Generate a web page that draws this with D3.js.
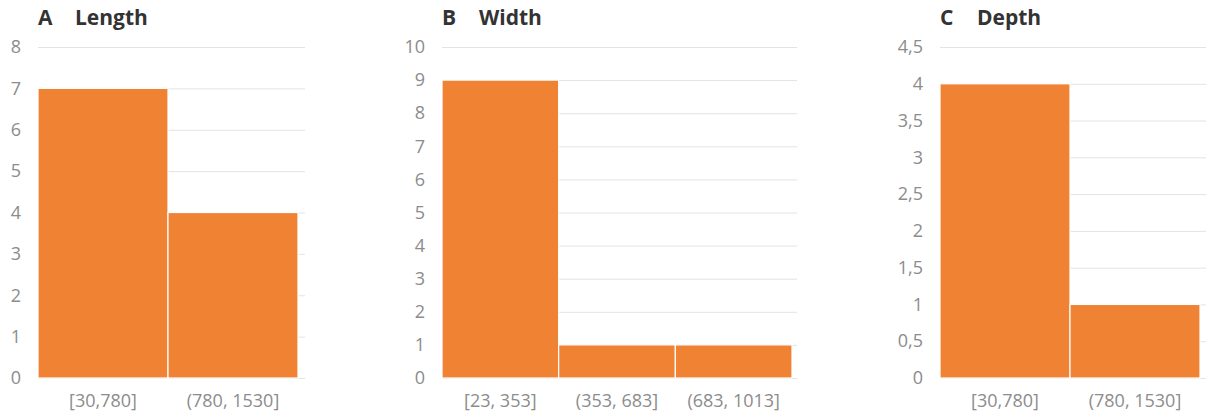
<!DOCTYPE html>
<html><head><meta charset="utf-8">
<script src="https://cdn.jsdelivr.net/npm/d3@7"></script>
<style>body{margin:0;background:#fff;}svg{display:block;} svg text{font-family:"Open Sans","Noto Sans",sans-serif;}</style>
</head><body>
<svg id="chart" width="1206" height="419"></svg>
<script>
const lengthBins = ["[30,780]", "(780, 1530]"];
const lengthCounts = [7, 4];
const widthBins = ["[23, 353]", "(353, 683]", "(683, 1013]"];
const widthCounts = [9, 1, 1];
const depthBins = ["[30,780]", "(780, 1530]"];
const depthCounts = [4, 1];
const lengthTicks = [0,1,2,3,4,5,6,7,8];
const widthTicks = [0,1,2,3,4,5,6,7,8,9,10];
const depthTicks = [0,0.5,1,1.5,2,2.5,3,3.5,4,4.5];
const panels = [
  {letter:"A", title:"Length", bins:lengthBins, counts:lengthCounts, ticks:lengthTicks, max:8, x0:38, x1:298, gx:305},
  {letter:"B", title:"Width", bins:widthBins, counts:widthCounts, ticks:widthTicks, max:10, x0:442, x1:792, gx:797},
  {letter:"C", title:"Depth", bins:depthBins, counts:depthCounts, ticks:depthTicks, max:4.5, x0:940, x1:1200, gx:1206}
];
const loc = d3.formatLocale({decimal:",", thousands:".", grouping:[3], currency:["","€"]});
const fmt = v => loc.format("")(v);
const svg = d3.select("#chart");
const yTop = 47, yBot = 378;
panels.forEach(p => {
  const g = svg.append("g");
  const y = d3.scaleLinear().domain([0, p.max]).range([yBot, yTop]);
  const x = d3.scaleBand().domain(p.bins).range([p.x0, p.x1]).padding(0);
  g.append("g").selectAll("line").data(p.ticks).join("line")
    .attr("x1", p.x0).attr("x2", p.gx)
    .attr("y1", d => y(d)+0.5).attr("y2", d => y(d)+0.5)
    .attr("stroke", "#e3e3e3").attr("stroke-width", 1);
  g.append("g").selectAll("rect").data(p.counts).join("rect")
    .attr("x", (d,i) => x(p.bins[i]))
    .attr("width", x.bandwidth())
    .attr("y", d => y(d))
    .attr("height", d => yBot - y(d))
    .attr("fill", "#F08234")
    .attr("stroke", "#fff").attr("stroke-width", 1.2);
  const ya = d3.axisLeft(y).tickValues(p.ticks).tickFormat(fmt).tickSize(0).tickPadding(0);
  const yg = g.append("g").attr("transform", `translate(${p.x0-17},0)`).call(ya);
  yg.attr("font-family", null).attr("font-size", null);
  yg.select(".domain").remove();
  yg.selectAll("text").attr("fill", "#8c8c8c").style("font-size", "18px");
  const xa = d3.axisBottom(x).tickSize(0).tickPadding(0);
  const xg = g.append("g").attr("transform", `translate(0,${yBot+16})`).call(xa);
  xg.attr("font-family", null).attr("font-size", null);
  xg.select(".domain").remove();
  xg.selectAll("text").attr("fill", "#8c8c8c").style("font-size", "18px").attr("dy", "0.71em");
  g.append("text").attr("x", p.x0).attr("y", 25).text(p.letter)
    .attr("fill", "#333").style("font-size", "21px").style("font-weight", "700");
  g.append("text").attr("x", p.x0+37).attr("y", 25).text(p.title)
    .attr("fill", "#333").style("font-size", "21px").style("font-weight", "700");
});
</script>
</body></html>
